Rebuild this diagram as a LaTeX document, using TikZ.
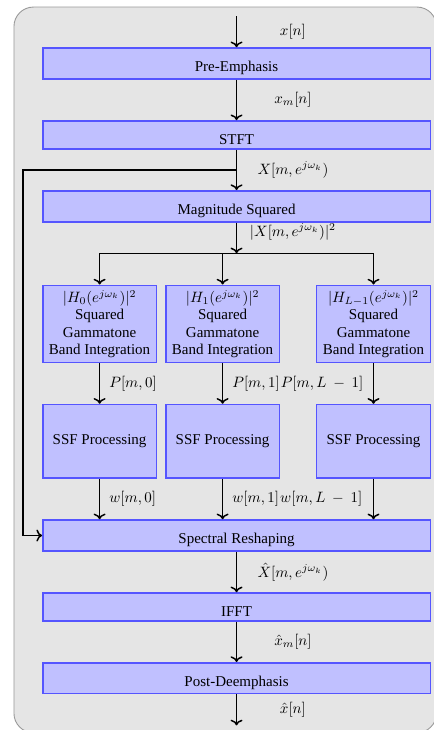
\documentclass[tikz,border=0pt]{standalone}
\usepackage{amsmath,amssymb}
\usepackage{fontspec}
\setmainfont{Liberation Serif}
\usepackage{tikz}
\usetikzlibrary{arrows.meta,positioning}
\definecolor{panel}{HTML}{E5E5E5}
\definecolor{frame}{HTML}{9A9A9A}
\definecolor{boxfill}{HTML}{C0C0FF}
\definecolor{boxline}{HTML}{5555FF}
\tikzset{
  bg/.style={draw=frame, fill=panel, line width=0.6pt, rounded corners=13pt},
  blk/.style={draw=boxline, fill=boxfill, line width=1pt, minimum width=258.3pt, inner ysep=2.8pt, text height=12.9pt},
  band/.style={draw=boxline, fill=boxfill, line width=1pt, align=center, inner xsep=4pt, inner ysep=3.3pt, minimum width=75.7pt, font=\fontsize{10pt}{11.5pt}\selectfont},
  ssfbox/.style={draw=boxline, fill=boxfill, line width=1pt, minimum width=75.7pt, minimum height=49pt},
  arr/.style={->, line width=1pt},
  wire/.style={line width=1pt},
  lab/.style={inner xsep=0pt},
  sig/.style={xshift=37.6pt},
}

\begin{document}
\begin{tikzpicture}
\useasboundingbox (0,0) rectangle (289.33pt,-486.67pt);
\draw[bg] (9.3pt,-4.7pt) rectangle (291pt,-488.5pt);

\node[blk] (pre) at (157.7pt,-42.3pt) {Pre-Emphasis};
\node[blk, below=27pt of pre] (stft) {STFT};
\node[blk, below=27pt of stft] (mag) {Magnitude Squared};
\coordinate[above=20.6pt of pre] (in);
\coordinate[below=20.5pt of mag] (split);

\node[band, below=41.3pt of mag.south west, anchor=north west] (h0) {$|H_0(e^{j\omega_k})|^2$\\Squared\\Gammatone\\Band Integration};
\node[band, right=5.3pt of h0.north east, anchor=north west] (h1) {$|H_1(e^{j\omega_k})|^2$\\Squared\\Gammatone\\Band Integration};
\node[band, below=41.3pt of mag.south east, anchor=north east] (h2) {$|H_{L-1}(e^{j\omega_k})|^2$\\Squared\\Gammatone\\Band Integration};

\node[ssfbox, below=27pt of h0] (s0) {SSF Processing};
\node[ssfbox, below=27pt of h1] (s1) {SSF Processing};
\node[ssfbox, below=27pt of h2] (s2) {SSF Processing};

\coordinate (row) at (s0.south -| mag.south);
\node[blk, below=27pt of row] (spec) {Spectral Reshaping};
\node[blk, below=27pt of spec] (ifft) {IFFT};
\node[blk, below=27pt of ifft] (post) {Post-Deemphasis};
\coordinate[below=20.6pt of post] (out);

\draw[arr] (in) -- node[lab, sig] (xin) {$x[n]$} (pre);
\draw[arr] (pre) -- node[lab, sig] (xm) {$x_m[n]$} (stft);
\draw[arr] (stft) -- coordinate (tap) node[lab, sig] (xx) {$X[m,e^{j\omega_k})$} (mag);
\draw[arr] (mag) -- node[lab, sig, pos=0.3] (xsq) {$|X[m,e^{j\omega_k})|^2$} (split);

\draw[wire] (split -| h0) -- (split -| h2);
\draw[arr] (split -| h0) -- (h0);
\draw[arr] (split -| h1) -- (h1);
\draw[arr] (split -| h2) -- (h2);

\draw[arr] (h0) -- node[lab, right=6pt] (p0) {$P[m,0]$} (s0);
\draw[arr] (h1) -- node[lab, right=6pt] (p1) {$P[m,1]$} (s1);
\node[lab, right=0pt of p1] (p2) {$P[m,L\:-\:1]$};
\draw[arr] (h2) -- (s2);

\draw[arr] (s0) -- node[lab, right=6pt] (w0) {$w[m,0]$} (s0 |- spec.north);
\draw[arr] (s1) -- node[lab, right=6pt] (w1) {$w[m,1]$} (s1 |- spec.north);
\node[lab, right=0pt of w1] (w2) {$w[m,L\:-\:1]$};
\draw[arr] (s2) -- (s2 |- spec.north);

\coordinate[left=142.4pt of tap] (fb);
\draw[arr] (tap) -- (fb) |- (spec);

\draw[arr] (spec) -- node[lab, sig] (xh) {$\hat{X}[m,e^{j\omega_k})$} (ifft);
\draw[arr] (ifft) -- node[lab, sig] (xhm) {$\hat{x}_m[n]$} (post);
\draw[arr] (post) -- node[lab, sig] (xout) {$\hat{x}[n]$} (out);
\end{tikzpicture}
\end{document}
